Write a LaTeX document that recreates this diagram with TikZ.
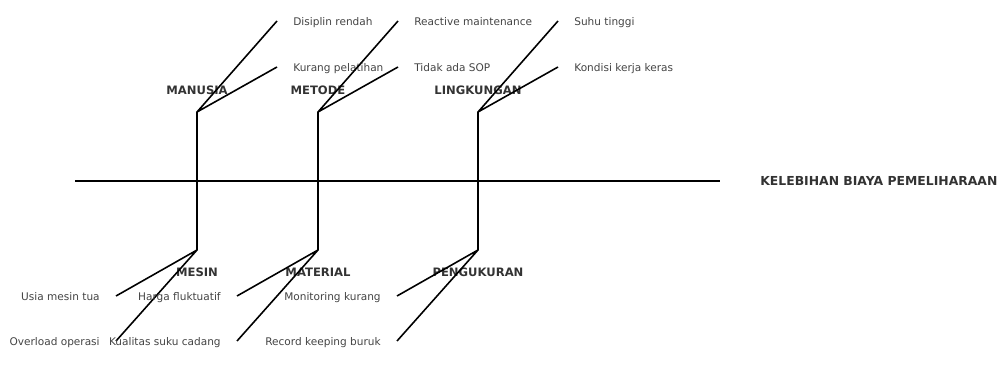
\documentclass[tikz,border=0pt]{standalone}
\usepackage{fontspec}
\setmainfont{DejaVu Sans}
\usetikzlibrary{positioning}
\definecolor{ink}{HTML}{444444}
\definecolor{heading}{HTML}{333333}
\tikzset{
  spine/.style={line width=1.2pt,black},
  bone/.style={line width=0.9pt,black},
  cat/.style={font=\fontsize{6.6}{8}\selectfont\bfseries,text=heading,inner sep=0pt},
  effectlabel/.style={cat,font=\fontsize{7.05}{9}\selectfont\bfseries},
  cause/.style={font=\fontsize{6}{7}\selectfont,text=ink,inner sep=0pt}
}

\begin{document}
\begin{tikzpicture}[x=0.02cm,y=-0.02cm]
\useasboundingbox (0,0) rectangle (1000,371);
% main spine and effect
\coordinate (tail) at (75,181); \coordinate (head) at (720,181);
\draw[spine] (tail) -- (head);
\node[effectlabel,anchor=west] (effect) at (760,181) {KELEBIHAN BIAYA PEMELIHARAAN};
% upper bones
\foreach \n/\x/\lab/\ca/\cb in {man/197/MANUSIA/Disiplin rendah/Kurang pelatihan,met/318/METODE/Reactive maintenance/Tidak ada SOP,lin/478/LINGKUNGAN/Suhu tinggi/Kondisi kerja keras}{
  \coordinate (\n-root) at (\x,181); \coordinate (\n-joint) at (\x,112);
  \coordinate (\n-a) at (\x+80,21); \coordinate (\n-b) at (\x+80,67);
  \node[cat] (\n) at (\x,90) {\lab};
  \node[cause,anchor=mid west] (\n-ta) at (\x+96,21) {\ca};
  \node[cause,anchor=mid west] (\n-tb) at (\x+96,67) {\cb};
  \draw[bone] (\n-root) -- (\n-joint) -- (\n-a) (\n-joint) -- (\n-b);
}
% lower bones
\foreach \n/\x/\lab/\ca/\cb in {mes/197/MESIN/Usia mesin tua/Overload operasi,mat/318/MATERIAL/Harga fluktuatif/Kualitas suku cadang,pen/478/PENGUKURAN/Monitoring kurang/Record keeping buruk}{
  \coordinate (\n-root) at (\x,181); \coordinate (\n-joint) at (\x,250);
  \coordinate (\n-a) at (\x-81,296); \coordinate (\n-b) at (\x-81,341);
  \node[cat] (\n) at (\x,272) {\lab};
  \node[cause,anchor=mid east] (\n-ta) at (\x-97,296) {\ca};
  \node[cause,anchor=mid east] (\n-tb) at (\x-97,341) {\cb};
  \draw[bone] (\n-root) -- (\n-joint) -- (\n-a) (\n-joint) -- (\n-b);
}
\end{tikzpicture}
\end{document}
